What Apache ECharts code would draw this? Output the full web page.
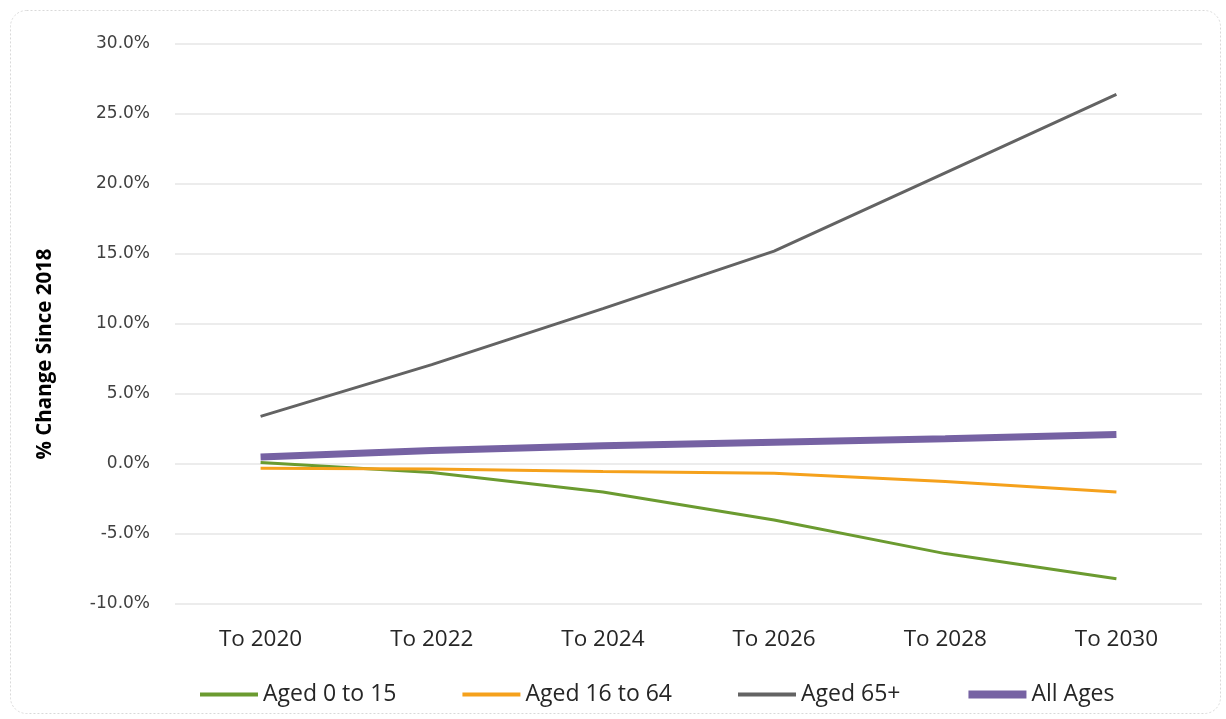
<!DOCTYPE html>
<html>
<head>
<meta charset="utf-8">
<script src="https://cdn.jsdelivr.net/npm/echarts@6/dist/echarts.min.js"></script>
<style>html,body{margin:0;padding:0;background:#fff}#c{width:1226px;height:719px}</style>
</head>
<body>
<div id="c"></div>
<script>
const categories = ['To 2020', 'To 2022', 'To 2024', 'To 2026', 'To 2028', 'To 2030'];
const aged0to15 = [0.1, -0.6, -2.0, -4.0, -6.4, -8.2];
const aged16to64 = [-0.3, -0.36, -0.53, -0.66, -1.25, -2.0];
const aged65plus = [3.4, 7.1, 11.1, 15.2, 20.8, 26.4];
const allAges = [0.5, 0.97, 1.3, 1.55, 1.8, 2.1];
const seriesNames = ['Aged 0 to 15', 'Aged 16 to 64', 'Aged 65+', 'All Ages'];
const yTitle = '% Change Since 2018';

const chart = echarts.init(document.getElementById('c'));
const mk = (name, data, color, width) => ({
  name, type: 'line', data, symbol: 'none', showSymbol: false,
  lineStyle: { color, width }, itemStyle: { color }, z: width > 4 ? 5 : 3
});
chart.setOption({
  animation: false,
  graphic: [{
    type: 'rect', left: 8, top: 8,
    shape: { width: 1210, height: 703, r: 16 },
    style: { fill: 'none', stroke: '#d9d9d9', lineWidth: 1, lineDash: [2, 2] }
  }, {
    type: 'text', x: 45, y: 354, rotation: Math.PI / 2,
    style: { text: yTitle, fontFamily: 'Open Sans', fontWeight: 'bold', fontSize: 20.5,
      fill: '#000', align: 'center', verticalAlign: 'middle' }
  }],
  grid: { left: 175, right: 24, top: 44, bottom: 115 },
  legend: {
    top: 678, left: 193,
    itemWidth: 58, itemHeight: 14, itemGap: 64,
    textStyle: { fontFamily: 'Open Sans', fontSize: 23, color: '#262626' },
    data: seriesNames.map((n, i) => ({
      name: n, itemStyle: { opacity: 0 }, lineStyle: { width: i === 3 ? 8 : 4 }
    }))
  },
  xAxis: {
    type: 'category', data: categories, boundaryGap: true,
    axisLine: { show: false }, axisTick: { show: false },
    axisLabel: { fontFamily: 'Open Sans', fontSize: 22.5, color: '#262626', margin: 24 }
  },
  yAxis: {
    type: 'value', min: -10, max: 30, interval: 5,
    axisLine: { show: false }, axisTick: { show: false },
    axisLabel: { fontFamily: 'DejaVu Sans', fontSize: 17, color: '#404040', margin: 25,
      formatter: v => v.toFixed(1) + '%' },
    splitLine: { lineStyle: { color: '#e6e6e6', width: 1.5 } }
  },
  series: [
    mk(seriesNames[0], aged0to15, '#6B9B30', 3),
    mk(seriesNames[1], aged16to64, '#F5A11C', 3),
    mk(seriesNames[2], aged65plus, '#636363', 3),
    mk(seriesNames[3], allAges, '#7662A3', 7)
  ]
});
</script>
</body>
</html>
